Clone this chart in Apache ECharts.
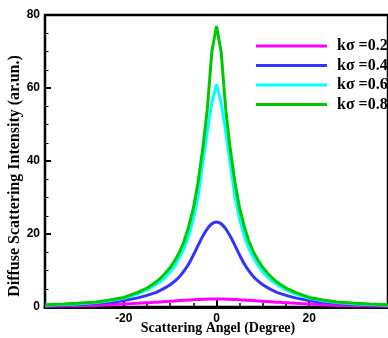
<!DOCTYPE html>
<html>
<head>
<meta charset="utf-8">
<script src="https://cdn.jsdelivr.net/npm/echarts@6/dist/echarts.min.js"></script>
<style>
  html, body { margin: 0; padding: 0; background: #fff; }
  #chart { width: 388px; height: 338px; }
</style>
</head>
<body>
<div id="chart"></div>
<script>
// scattering angle (degree)
const angles = [-37, -33, -30, -26, -23, -20, -17, -15, -14, -13, -12, -11, -10, -9, -8, -7, -6, -5, -4, -3, -2, -1,
  0, 1, 2, 3, 4, 5, 6, 7, 8, 9, 10, 11, 12, 13, 14, 15, 17, 20, 23, 26, 30, 33, 37];

const ks02 = [0.2, 0.28, 0.35, 0.5, 0.65, 0.85, 1.0, 1.15, 1.25, 1.3, 1.4, 1.5, 1.55, 1.65, 1.75, 1.85, 1.9, 2.0, 2.05, 2.1, 2.15, 2.2,
  2.2, 2.2, 2.15, 2.1, 2.05, 2.0, 1.9, 1.85, 1.75, 1.65, 1.55, 1.5, 1.4, 1.3, 1.25, 1.15, 1.0, 0.85, 0.65, 0.5, 0.35, 0.28, 0.2];
const ks04 = [0.4, 0.55, 0.7, 1.0, 1.3, 1.8, 2.5, 3.2, 3.6, 4.0, 4.6, 5.3, 6.1, 7.1, 8.3, 9.9, 11.8, 14.2, 16.8, 19.3, 21.4, 22.8,
  23.3, 22.8, 21.4, 19.3, 16.8, 14.2, 11.8, 9.9, 8.3, 7.1, 6.1, 5.3, 4.6, 4.0, 3.6, 3.2, 2.5, 1.8, 1.3, 1.0, 0.7, 0.55, 0.4];
const ks06 = [0.5, 0.7, 0.85, 1.2, 1.7, 2.4, 3.6, 4.7, 5.4, 6.2, 7.1, 8.2, 9.6, 11.3, 13.5, 16, 19.5, 24, 30, 39, 48, 56,
  61, 56, 48, 39, 30, 24, 19.5, 16, 13.5, 11.3, 9.6, 8.2, 7.1, 6.2, 5.4, 4.7, 3.6, 2.4, 1.7, 1.2, 0.85, 0.7, 0.5];
const ks08 = [0.6, 0.8, 1.0, 1.4, 1.9, 2.6, 4.0, 5.2, 6.0, 6.9, 8.0, 9.3, 10.8, 12.7, 15, 18, 22, 27, 34, 43, 54, 70,
  77, 70, 54, 43, 34, 27, 22, 18, 15, 12.7, 10.8, 9.3, 8.0, 6.9, 6.0, 5.2, 4.0, 2.6, 1.9, 1.4, 1.0, 0.8, 0.6];

const seriesNames = ['kσ =0.2', 'kσ =0.4', 'kσ =0.6', 'kσ =0.8'];
const seriesColors = ['#ff00ff', '#3333ff', '#00ffff', '#00c800'];
const seriesValues = [ks02, ks04, ks06, ks08];

const xMinorTicks = [-35, -30, -25, -20, -15, -10, -5, 0, 5, 10, 15, 20, 25, 30, 35];
const xLabels = [-20, 0, 20];

const labelFont = { color: '#000', fontFamily: 'Liberation Sans', fontWeight: 'bold', fontSize: 12 };
const serifFont = 'Liberation Serif';

const chart = echarts.init(document.getElementById('chart'), null, { renderer: 'canvas' });

chart.setOption({
  animation: false,
  backgroundColor: '#fff',
  grid: {
    left: 45, right: -2, top: 15, bottom: 31,
    show: true, borderColor: '#000', borderWidth: 2.5
  },
  legend: {
    left: 256, top: 38,
    padding: 0,
    orient: 'vertical',
    icon: 'rect',
    itemWidth: 71, itemHeight: 3,
    itemGap: 3.5,
    data: seriesNames,
    textStyle: {
      color: '#000', fontFamily: serifFont, fontWeight: 'bold', fontSize: 16,
      lineHeight: 16, padding: [0, 0, 0, 5]
    }
  },
  xAxis: [
    {
      type: 'value', min: -37, max: 37,
      axisLine: { show: true, onZero: false, lineStyle: { color: '#000', width: 3 } },
      axisTick: { show: true, inside: true, length: 4, customValues: xMinorTicks, lineStyle: { color: '#000', width: 1.5 } },
      axisLabel: { ...labelFont, margin: 6, customValues: xLabels },
      splitLine: { show: false }
    },
    {
      type: 'value', min: -37, max: 37, position: 'bottom',
      axisLine: { show: false, onZero: false },
      axisTick: { show: true, inside: true, length: 7, customValues: xLabels, lineStyle: { color: '#000', width: 2 } },
      axisLabel: { show: false },
      splitLine: { show: false }
    }
  ],
  yAxis: {
    type: 'value', min: 0, max: 80, interval: 20,
    axisLine: { show: true, onZero: false, lineStyle: { color: '#000', width: 2 } },
    axisTick: { show: true, inside: true, length: 6, lineStyle: { color: '#000', width: 2 } },
    minorTick: { show: true, splitNumber: 4, length: 3.5, lineStyle: { color: '#000', width: 1 } },
    axisLabel: { ...labelFont, margin: 5 },
    splitLine: { show: false }
  },
  graphic: [
    {
      type: 'text', x: 15, y: 176, rotation: Math.PI / 2,
      style: {
        text: 'Diffuse Scattering Intensity (ar.un.)',
        font: 'bold 16px "Liberation Serif"', fill: '#000',
        textAlign: 'center', textVerticalAlign: 'middle'
      }
    },
    {
      type: 'text', x: 218, y: 328,
      style: {
        text: 'Scattering Angel (Degree)',
        font: 'bold 14px "Liberation Serif"', fill: '#000',
        textAlign: 'center', textVerticalAlign: 'middle'
      }
    }
  ],
  series: seriesValues.map((vals, i) => ({
    name: seriesNames[i],
    type: 'line',
    xAxisIndex: 0,
    data: angles.map((a, j) => [a, vals[j]]),
    showSymbol: false,
    smooth: i < 2 ? 0.3 : false,
    clip: true,
    color: seriesColors[i],
    lineStyle: { color: seriesColors[i], width: 3 }
  }))
});
</script>
</body>
</html>
